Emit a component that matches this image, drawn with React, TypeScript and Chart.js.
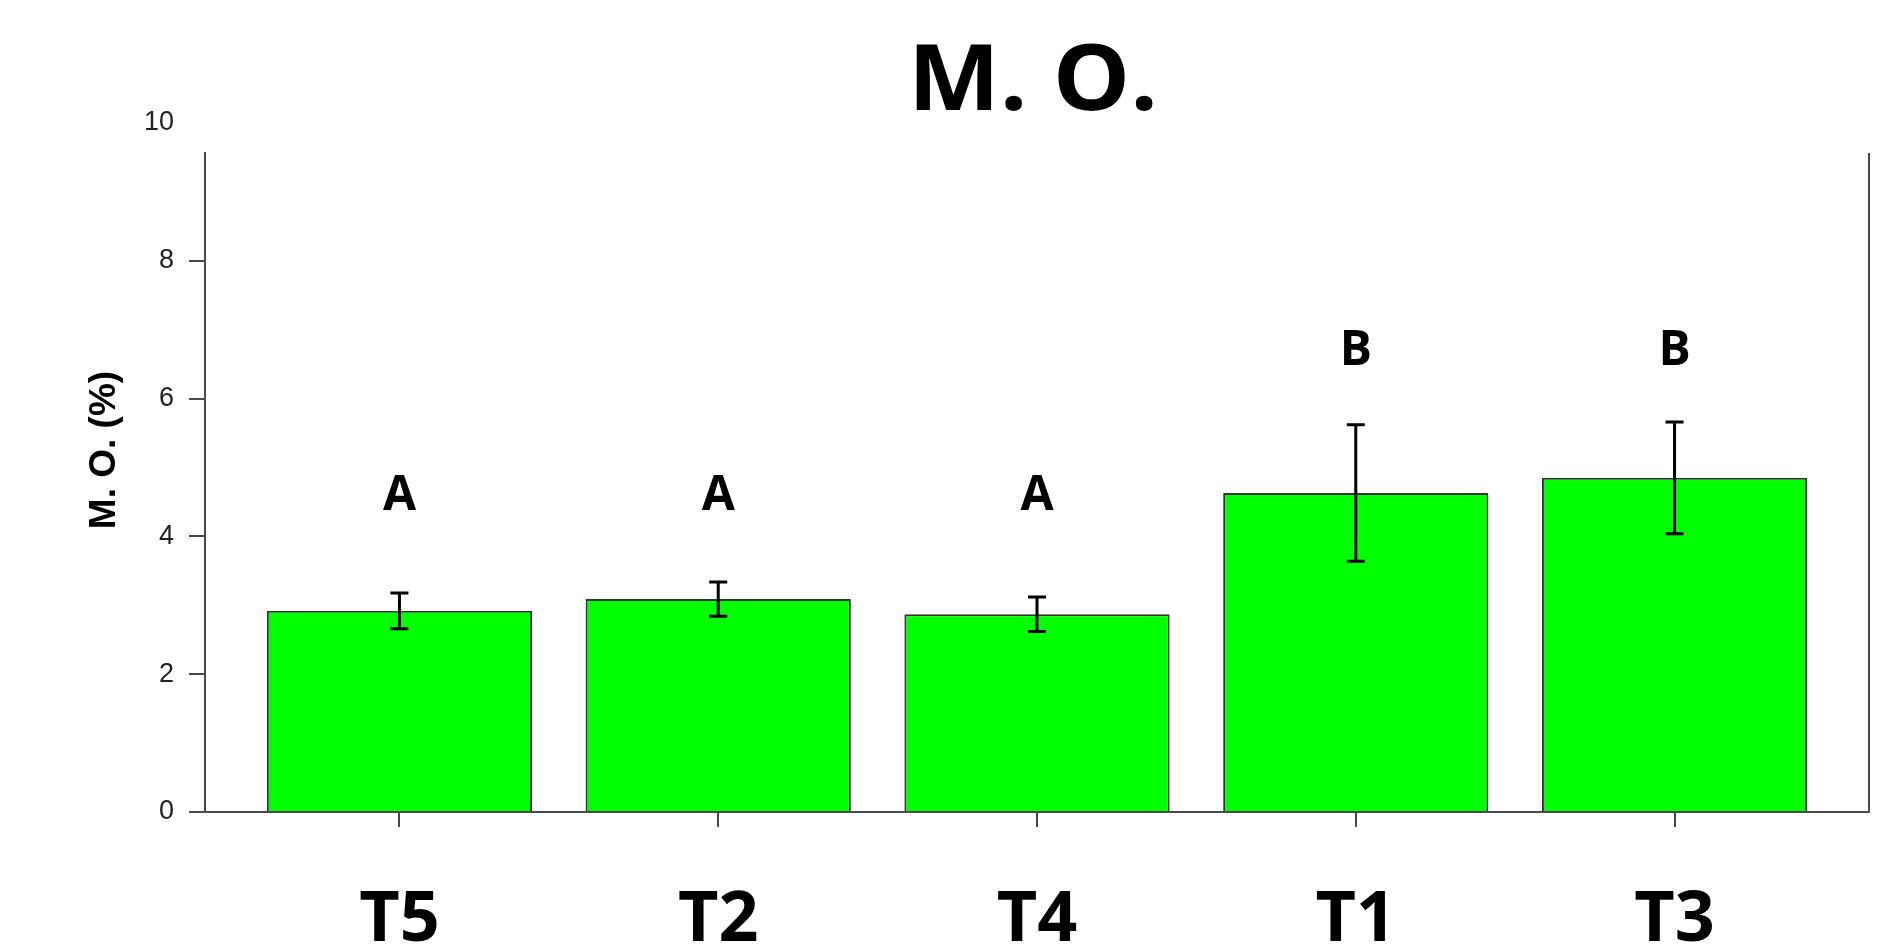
import React, { useEffect, useRef } from "react";
import { Chart, registerables } from "chart.js";

Chart.register(...registerables);

// Treatments, in plotted order
const categories = ["T5", "T2", "T4", "T1", "T3"];
// Mean organic matter (%) per treatment
const means = [2.92, 3.09, 2.87, 4.63, 4.85];
// Error bar half-lengths
const errors = [0.26, 0.25, 0.25, 0.99, 0.81];
// Significance groups and the level (y value) of each letter's baseline
const groupLetters = ["A", "A", "A", "B", "B"];
const letterLevels = [4.38, 4.38, 4.38, 6.49, 6.49];
// Y tick values
const yTickValues = [0, 2, 4, 6, 8, 10];

const chartTitle = "M. O.";
const yAxisTitle = "M. O. (%)";

const AXIS_COLOR = "#4a4a4a";
const BAR_FILL = "#00ff00";
const BAR_EDGE = "#333333";
const Y_MAX = 9.565;

const annotationsPlugin = {
  id: "annotations",
  afterDatasetsDraw(chart: any) {
    const { ctx, chartArea, scales } = chart;
    const x = scales.x;
    const y = scales.y;
    ctx.save();

    // right frame line
    ctx.strokeStyle = AXIS_COLOR;
    ctx.lineWidth = 2;
    ctx.beginPath();
    ctx.moveTo(chartArea.right, chartArea.top);
    ctx.lineTo(chartArea.right, chartArea.bottom + 1);
    ctx.stroke();

    // error bars
    ctx.strokeStyle = "#000";
    ctx.lineWidth = 3;
    const cap = 9;
    means.forEach((m, i) => {
      const cx = x.getPixelForValue(i);
      const top = y.getPixelForValue(m + errors[i]);
      const bot = y.getPixelForValue(m - errors[i]);
      ctx.beginPath();
      ctx.moveTo(cx, top);
      ctx.lineTo(cx, bot);
      ctx.moveTo(cx - cap, top);
      ctx.lineTo(cx + cap, top);
      ctx.moveTo(cx - cap, bot);
      ctx.lineTo(cx + cap, bot);
      ctx.stroke();
    });

    // group letters
    ctx.fillStyle = "#000";
    ctx.font = 'bold 48px "Open Sans"';
    ctx.textAlign = "center";
    ctx.textBaseline = "alphabetic";
    groupLetters.forEach((g, i) => {
      ctx.fillText(g, x.getPixelForValue(i), y.getPixelForValue(letterLevels[i]));
    });

    // chart title, slightly widened
    ctx.save();
    ctx.translate((chartArea.left + chartArea.right) / 2 - 4, 102);
    ctx.scale(1.07, 1);
    ctx.font = 'bold 91px "Open Sans"';
    ctx.textAlign = "center";
    ctx.textBaseline = "alphabetic";
    ctx.fillText(chartTitle, 0, 0);
    ctx.restore();

    // y axis title
    ctx.translate(97, 442);
    ctx.rotate(-Math.PI / 2);
    ctx.font = 'bold 37px "Liberation Sans"';
    ctx.textAlign = "center";
    ctx.textBaseline = "middle";
    ctx.fillText(yAxisTitle, 0, 0);

    ctx.restore();
  },
};

export default function App() {
  const canvasRef = useRef<HTMLCanvasElement | null>(null);

  useEffect(() => {
    if (!canvasRef.current) return;
    const chart = new Chart(canvasRef.current, {
      type: "bar",
      data: {
        datasets: [
          {
            data: means.map((m, i) => ({ x: i, y: m })),
            backgroundColor: BAR_FILL,
            borderColor: BAR_EDGE,
            borderWidth: 2,
            barPercentage: 0.832,
            categoryPercentage: 1,
          },
        ],
      },
      options: {
        animation: false,
        responsive: true,
        maintainAspectRatio: false,
        layout: { padding: { top: 145, right: 10, left: 0, bottom: 0 } },
        plugins: {
          legend: { display: false },
          tooltip: { enabled: false },
          title: { display: false },
        },
        scales: {
          x: {
            type: "linear",
            min: -0.61,
            max: 4.61,
            offset: false,
            afterBuildTicks: (s: any) => {
              s.ticks = categories.map((_, i) => ({ value: i }));
            },
            afterFit: (s: any) => {
              s.height = 130;
            },
            ticks: {
              autoSkip: false,
              maxRotation: 0,
              padding: 59,
              color: "#000",
              font: { family: '"Open Sans"', size: 70, weight: "bold", lineHeight: 1 },
              callback: (v: any) => categories[Math.round(Number(v))],
            },
            grid: {
              offset: false,
              drawOnChartArea: false,
              tickLength: 15,
              color: AXIS_COLOR,
              lineWidth: 2,
            },
            border: { display: true, color: AXIS_COLOR, width: 2 },
          },
          y: {
            min: 0,
            max: Y_MAX,
            afterBuildTicks: (s: any) => {
              s.ticks = yTickValues.map((v) => ({ value: v }));
            },
            afterFit: (s: any) => {
              s.width = 197;
            },
            ticks: {
              padding: 15,
              color: "#222",
              font: { family: '"Liberation Sans"', size: 27 },
            },
            grid: {
              drawOnChartArea: false,
              tickLength: 16,
              color: AXIS_COLOR,
              tickColor: (c: any) => (c.tick && c.tick.value > Y_MAX ? "rgba(0,0,0,0)" : AXIS_COLOR),
              lineWidth: 2,
            },
            border: { display: true, color: AXIS_COLOR, width: 2 },
          },
        },
      },
      plugins: [annotationsPlugin],
    });
    return () => chart.destroy();
  }, []);

  return (
    <div style={{ width: 1871, height: 934, position: "relative" }}>
      <canvas ref={canvasRef} />
    </div>
  );
}
